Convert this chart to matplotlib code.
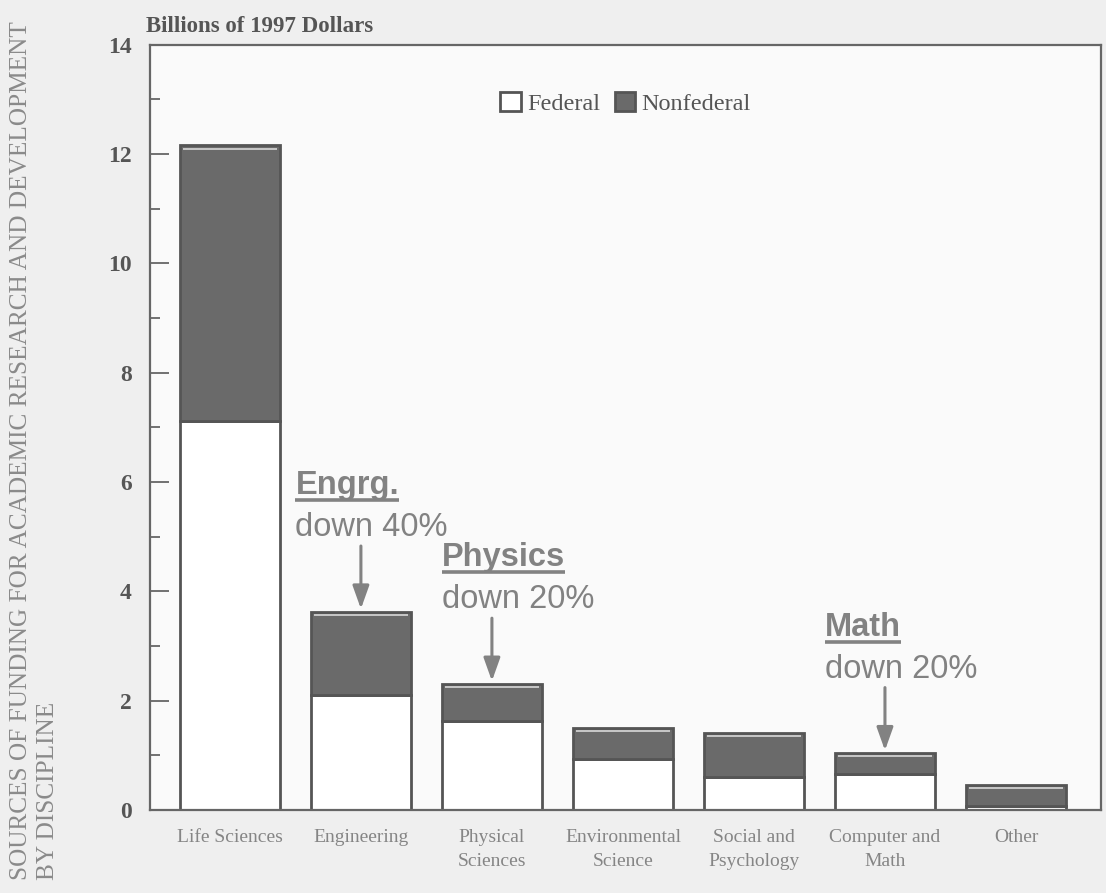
import matplotlib.pyplot as plt
import numpy as np

disciplines = ["Life Sciences", "Engineering", "Physical\nSciences", "Environmental\nScience",
               "Social and\nPsychology", "Computer and\nMath", "Other"]
federal = [7.12, 2.11, 1.63, 0.93, 0.60, 0.66, 0.08]
nonfederal = [5.04, 1.52, 0.68, 0.57, 0.81, 0.38, 0.38]

# callouts: (bar index, heading, note)
callouts = [(1, "Engrg.", "down 40%"), (2, "Physics", "down 20%"), (5, "Math", "down 20%")]
callout_dx = [-0.5, -0.38, -0.46]  # text start relative to bar centre

serif = "Liberation Serif"
sans = "Liberation Sans"
dark = "#6a6a6a"
edge = "#555555"
note_col = "#828282"

fig = plt.figure(figsize=(11.06, 8.93), dpi=100, facecolor="#efefef")
ax = fig.add_axes([0.1356, 0.0929, 0.86, 0.857], facecolor="#fafafa")

x = np.arange(len(disciplines))
width = 0.76
total = np.array(federal) + np.array(nonfederal)

ax.bar(x, federal, width, color="white", edgecolor=edge, linewidth=2, label="Federal")
ax.bar(x, nonfederal, width, bottom=federal, color=dark, edgecolor=edge, linewidth=2,
       label="Nonfederal")
# light highlight just under each bar top
for xi, t in zip(x, total):
    ax.plot([xi - width / 2 + 0.02, xi + width / 2 - 0.02], [t - 0.06, t - 0.06],
            color="#d8d8d8", lw=1.2, solid_capstyle="butt")

ax.set_xlim(-0.61, 6.65)
ax.set_ylim(0, 14)
ax.set_yticks(range(0, 15, 2))
ax.set_yticks(range(1, 14, 2), minor=True)
ax.tick_params(axis="y", which="major", direction="in", length=14, width=1.3, color="#666666",
               labelsize=17, labelcolor="#555555", pad=13)
ax.tick_params(axis="y", which="minor", direction="in", length=7, width=1.3, color="#666666")
for lbl in ax.get_yticklabels():
    lbl.set_fontfamily(serif)
    lbl.set_fontweight("bold")
ax.set_xticks(x)
ax.set_xticklabels(disciplines, fontfamily=serif, fontsize=14, color="#858585",
                   linespacing=1.5)
ax.tick_params(axis="x", length=0, pad=14)
for s in ax.spines.values():
    s.set_color("#666666")
    s.set_linewidth(1.6)

ax.text(-0.64, 14.15, "Billions of 1997 Dollars", fontfamily=serif, fontweight="bold",
        fontsize=16.5, color="#555555", ha="left", va="bottom")

leg = ax.legend(loc="center", bbox_to_anchor=(0.5, 0.923), ncol=2, frameon=False,
                prop={"family": serif, "size": 17.5}, handlelength=0.85, handleheight=0.85,
                handletextpad=0.25, columnspacing=0.6)
for t in leg.get_texts():
    t.set_color("#555555")

heads = []
for (i, head, note), dx in zip(callouts, callout_dx):
    top = total[i]
    tx = x[i] + dx
    h = ax.text(tx, top + 2.15, head, fontfamily=sans, fontweight="bold", fontsize=23.5,
                color=note_col, ha="left", va="baseline")
    heads.append(h)
    ax.text(tx, top + 1.38, note, fontfamily=sans, fontsize=23.5, color=note_col, ha="left",
            va="baseline")
    ax.annotate("", xy=(x[i], top + 0.05), xytext=(x[i], top + 1.2),
                arrowprops=dict(arrowstyle="-|>,head_length=1.4,head_width=0.5",
                                color=note_col, lw=2.2, shrinkA=0, shrinkB=0))

# underline each heading using its rendered extent
fig.canvas.draw()
inv = ax.transData.inverted()
for h in heads:
    bb = h.get_window_extent()
    (x0, y0), (x1, _) = inv.transform([(bb.x0, bb.y0), (bb.x1, bb.y1)])
    ax.plot([x0, x1], [y0 + 0.02, y0 + 0.02], color=note_col, lw=2.6, solid_capstyle="butt")

fig.text(0.0315, 0.0146, "SOURCES OF FUNDING FOR ACADEMIC RESEARCH AND DEVELOPMENT\nBY DISCIPLINE",
         rotation=90, fontfamily=serif, fontsize=18.2, color="#8a8a8a", ha="center", va="bottom",
         multialignment="left", linespacing=1.28)

fig.savefig("out.png", dpi=100, facecolor=fig.get_facecolor())
